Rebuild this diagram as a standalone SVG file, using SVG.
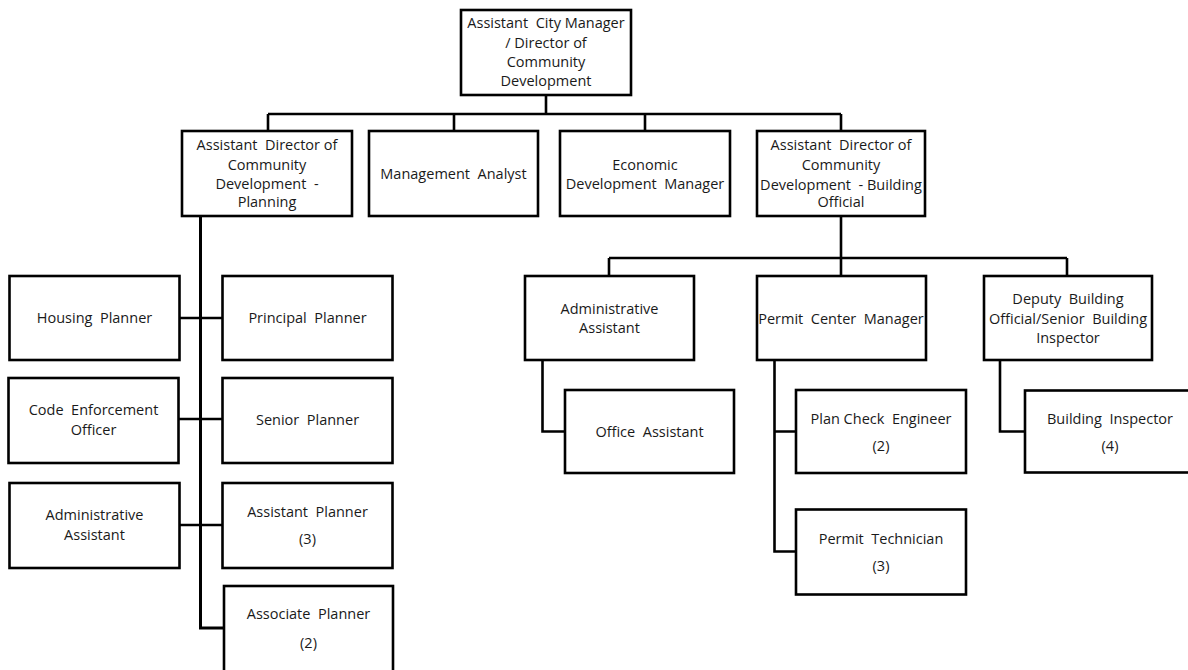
<svg xmlns="http://www.w3.org/2000/svg" width="1188" height="670" viewBox="0 0 1188 670">
<style>
.box{fill:#fff;stroke:#000;stroke-width:2.6}
.ln{fill:none;stroke:#000;stroke-width:2.6}
.t{font-family:"Open Sans","Liberation Sans",sans-serif;font-size:14.5px;fill:#1a1a1a;text-anchor:middle;white-space:pre}
</style>
<rect width="1188" height="670" fill="#fff"/>
<g id="connectors">
<path class="ln" d="M546 95V114M268 114H841M268 114V131M454 114V131M645 114V131M841 114V131"/>
<path class="ln" style="stroke-width:3" d="M200.5 216V628H224"/>
<path class="ln" d="M180 318H222M179 419H222M180 525H222"/>
<path class="ln" d="M841 216V258M609 258H1067M609 258V276M841 258V276M1067 258V276"/>
<path class="ln" d="M542.5 360V431.5H565M774.5 360V551.5H796M774.5 431.5H796M1000 360V431.5H1025"/>
</g>
<g id="n-top"><rect class="box" x="461" y="10" width="170" height="85"/>
<text class="t"><tspan x="546" y="28">Assistant  City Manager</tspan><tspan x="546" y="47.5">/ Director of</tspan><tspan x="546" y="67">Community</tspan><tspan x="546" y="85.5">Development</tspan></text></g>
<g id="n-planning"><rect class="box" x="182" y="131" width="170" height="85"/>
<text class="t"><tspan x="267" y="150">Assistant  Director of</tspan><tspan x="267" y="170">Community</tspan><tspan x="267" y="189">Development  -</tspan><tspan x="267" y="207">Planning</tspan></text></g>
<g id="n-analyst"><rect class="box" x="369" y="131" width="169" height="85"/>
<text class="t" x="453.5" y="179">Management  Analyst</text></g>
<g id="n-econ"><rect class="box" x="560" y="131" width="170" height="85"/>
<text class="t"><tspan x="645" y="169.5">Economic</tspan><tspan x="645" y="189">Development  Manager</tspan></text></g>
<g id="n-building"><rect class="box" x="757" y="131" width="168" height="85"/>
<text class="t"><tspan x="841" y="150">Assistant  Director of</tspan><tspan x="841" y="170">Community</tspan><tspan x="841" y="189.5">Development  - Building</tspan><tspan x="841" y="207">Official</tspan></text></g>
<g id="n-housing"><rect class="box" x="9.5" y="276" width="170" height="84"/>
<text class="t" x="94.5" y="323">Housing  Planner</text></g>
<g id="n-principal"><rect class="box" x="222.5" y="276" width="170" height="84"/>
<text class="t" x="307.5" y="323">Principal  Planner</text></g>
<g id="n-code"><rect class="box" x="8.5" y="378" width="170" height="85"/>
<text class="t"><tspan x="93.5" y="415">Code  Enforcement</tspan><tspan x="93.5" y="434.5">Officer</tspan></text></g>
<g id="n-senior"><rect class="box" x="222.5" y="378" width="170" height="85"/>
<text class="t" x="307.5" y="425">Senior  Planner</text></g>
<g id="n-admin-l"><rect class="box" x="9.5" y="483" width="170" height="85"/>
<text class="t"><tspan x="94.5" y="520">Administrative</tspan><tspan x="94.5" y="539.5">Assistant</tspan></text></g>
<g id="n-asst-planner"><rect class="box" x="222.5" y="483" width="170" height="85"/>
<text class="t"><tspan x="307.5" y="517">Assistant  Planner</tspan><tspan x="307.5" y="544">(3)</tspan></text></g>
<g id="n-assoc-planner"><rect class="box" x="224" y="586" width="169" height="86"/>
<text class="t"><tspan x="308.5" y="619">Associate  Planner</tspan><tspan x="308.5" y="648">(2)</tspan></text></g>
<g id="n-admin-r"><rect class="box" x="525" y="276" width="169" height="84"/>
<text class="t"><tspan x="609.5" y="313.5">Administrative</tspan><tspan x="609.5" y="333">Assistant</tspan></text></g>
<g id="n-permit-mgr"><rect class="box" x="757" y="276" width="169" height="84"/>
<text class="t" x="841" y="323.5">Permit  Center  Manager</text></g>
<g id="n-deputy"><rect class="box" x="984" y="276" width="168" height="84"/>
<text class="t"><tspan x="1068" y="304">Deputy  Building</tspan><tspan x="1068" y="323.5">Official/Senior  Building</tspan><tspan x="1068" y="342.5">Inspector</tspan></text></g>
<g id="n-office"><rect class="box" x="565" y="390" width="169" height="83"/>
<text class="t" x="649.5" y="437">Office  Assistant</text></g>
<g id="n-plancheck"><rect class="box" x="796" y="390" width="170" height="83"/>
<text class="t"><tspan x="881" y="424">Plan Check  Engineer</tspan><tspan x="881" y="451">(2)</tspan></text></g>
<g id="n-permit-tech"><rect class="box" x="796" y="509.5" width="170" height="85"/>
<text class="t"><tspan x="881" y="543.5">Permit  Technician</tspan><tspan x="881" y="571">(3)</tspan></text></g>
<g id="n-inspector"><rect class="box" x="1025" y="390.5" width="170" height="82"/>
<text class="t"><tspan x="1110" y="424">Building  Inspector</tspan><tspan x="1110" y="451">(4)</tspan></text></g>
</svg>
